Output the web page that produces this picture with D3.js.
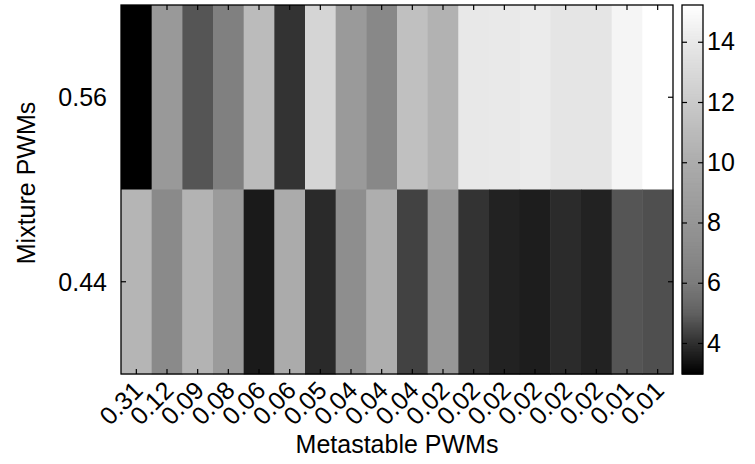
<!DOCTYPE html>
<html>
<head>
<meta charset="utf-8">
<script src="https://cdn.jsdelivr.net/npm/d3@7"></script>
<style>
  html, body { margin: 0; padding: 0; background: #fff; }
  svg text { font-family: "Liberation Sans", Arial, Helvetica, sans-serif; fill: #000; }
</style>
</head>
<body>
<svg id="chart" width="755" height="464"></svg>
<script>
// column categories (Metastable PWMs) and rows (Mixture PWMs)
const metastable = ['0.31', '0.12', '0.09', '0.08', '0.06', '0.06', '0.05', '0.04', '0.04',
                    '0.04', '0.02', '0.02', '0.02', '0.02', '0.02', '0.02', '0.01', '0.01'];
const mixture = ['0.56', '0.44'];

// cell values, one array per row
const row056 = [2.97, 8.27, 4.90, 6.56, 11.0, 4.19, 12.73, 8.36, 7.07,
                11.33, 10.4, 14.0, 14.05, 14.16, 13.8, 13.8, 14.69, 15.22];
const row044 = [10.6, 7.2, 10.47, 8.45, 3.61, 9.91, 4.0, 7.47, 10.13,
                4.5, 8.09, 4.19, 3.8, 3.68, 4.02, 3.8, 4.9, 4.77];

// colorbar
const cbarTicks = [4, 6, 8, 10, 12, 14];
const cbarDomain = [2.97, 15.22];
const cmapStops = [2.97, 4, 5, 6, 7, 8, 10, 12, 14, 15.22];
const cmapGrays = [0, 42, 90, 119, 135, 150, 172, 202, 232, 255];

const svg = d3.select('#chart');
const plot = { left: 121, right: 673, top: 5, bottom: 374 };
const cbar = { left: 682, right: 703 };
const fontSize = 25;

const rows = [row056, row044];
const cells = [];
rows.forEach((vals, r) => vals.forEach((v, c) => cells.push({ r, c, v })));

const x = d3.scaleBand().domain(d3.range(metastable.length)).range([plot.left, plot.right]);
const y = d3.scaleBand().domain(d3.range(mixture.length)).range([plot.top, plot.bottom]);
const color = d3.scaleLinear().domain(cmapStops)
    .range(cmapGrays.map(g => d3.rgb(g, g, g))).clamp(true);

// Heatmap cells
svg.append('g').selectAll('rect')
    .data(cells)
    .enter()
    .append('rect')
    .attr('x', d => x(d.c))
    .attr('y', d => y(d.r))
    .attr('width', x.bandwidth() + 0.5)
    .attr('height', y.bandwidth() + 0.5)
    .attr('fill', d => color(d.v));

// Axes (MATLAB style: ticks inward on all sides)
const tickLen = 5;
const xc = i => x(i) + x.bandwidth() / 2;
const yc = i => y(i) + y.bandwidth() / 2;

const bottomAx = svg.append('g')
    .attr('transform', `translate(0,${plot.bottom})`)
    .call(d3.axisBottom(x).tickSizeInner(-tickLen).tickSizeOuter(0).tickFormat(''));
const topAx = svg.append('g')
    .attr('transform', `translate(0,${plot.top})`)
    .call(d3.axisTop(x).tickSizeInner(-tickLen).tickSizeOuter(0).tickFormat(''));
const leftAx = svg.append('g')
    .attr('transform', `translate(${plot.left},0)`)
    .call(d3.axisLeft(y).tickSizeInner(-tickLen).tickSizeOuter(0).tickFormat(''));
const rightAx = svg.append('g')
    .attr('transform', `translate(${plot.right},0)`)
    .call(d3.axisRight(y).tickSizeInner(-tickLen).tickSizeOuter(0).tickFormat(''));
[bottomAx, topAx, leftAx, rightAx].forEach(g => {
    g.select('.domain').remove();
    g.selectAll('line').attr('stroke', '#000').attr('stroke-width', 1.2);
});

// Frame
svg.append('rect')
    .attr('x', plot.left).attr('y', plot.top)
    .attr('width', plot.right - plot.left).attr('height', plot.bottom - plot.top)
    .attr('fill', 'none').attr('stroke', '#000').attr('stroke-width', 1.3);

// Y tick labels
svg.append('g').selectAll('text')
    .data(mixture)
    .enter()
    .append('text')
    .attr('x', plot.left - 14)
    .attr('y', (d, i) => yc(i))
    .attr('dy', '0.35em')
    .attr('text-anchor', 'end')
    .attr('font-size', fontSize)
    .text(d => d);

// X tick labels, rotated 45 degrees
svg.append('g').selectAll('text')
    .data(metastable)
    .enter()
    .append('text')
    .attr('transform', (d, i) => `translate(${xc(i) + 8},${plot.bottom + 18}) rotate(-45)`)
    .attr('text-anchor', 'end')
    .attr('font-size', fontSize)
    .text(d => d);

// Axis titles
svg.append('text')
    .attr('x', (plot.left + plot.right) / 2)
    .attr('y', 453)
    .attr('text-anchor', 'middle')
    .attr('font-size', fontSize)
    .text('Metastable PWMs');

svg.append('text')
    .attr('transform', `translate(35,183) rotate(-90)`)
    .attr('text-anchor', 'middle')
    .attr('font-size', fontSize)
    .text('Mixture PWMs');

// Colorbar
const cy = d3.scaleLinear().domain(cbarDomain).range([plot.bottom, plot.top]);
const steps = d3.range(0, 370);
const stepVal = d3.scaleLinear().domain([0, steps.length]).range(cbarDomain);
svg.append('g').selectAll('rect')
    .data(steps)
    .enter()
    .append('rect')
    .attr('x', cbar.left)
    .attr('width', cbar.right - cbar.left)
    .attr('y', d => cy(stepVal(d + 1)))
    .attr('height', d => cy(stepVal(d)) - cy(stepVal(d + 1)) + 0.6)
    .attr('fill', d => color(stepVal(d + 0.5)));

const cbLeft = svg.append('g')
    .attr('transform', `translate(${cbar.left},0)`)
    .call(d3.axisRight(cy).tickValues(cbarTicks).tickSizeInner(tickLen).tickSizeOuter(0).tickFormat(''));
const cbRight = svg.append('g')
    .attr('transform', `translate(${cbar.right},0)`)
    .call(d3.axisLeft(cy).tickValues(cbarTicks).tickSizeInner(tickLen).tickSizeOuter(0).tickFormat(''));
[cbLeft, cbRight].forEach(g => {
    g.select('.domain').remove();
    g.selectAll('line').attr('stroke', '#000').attr('stroke-width', 1.2);
});

svg.append('rect')
    .attr('x', cbar.left).attr('y', plot.top)
    .attr('width', cbar.right - cbar.left).attr('height', plot.bottom - plot.top)
    .attr('fill', 'none').attr('stroke', '#000').attr('stroke-width', 1.3);

svg.append('g').selectAll('text')
    .data(cbarTicks)
    .enter()
    .append('text')
    .attr('x', cbar.right + 4)
    .attr('y', d => cy(d))
    .attr('dy', '0.35em')
    .attr('font-size', fontSize)
    .text(d => d);
</script>
</body>
</html>
